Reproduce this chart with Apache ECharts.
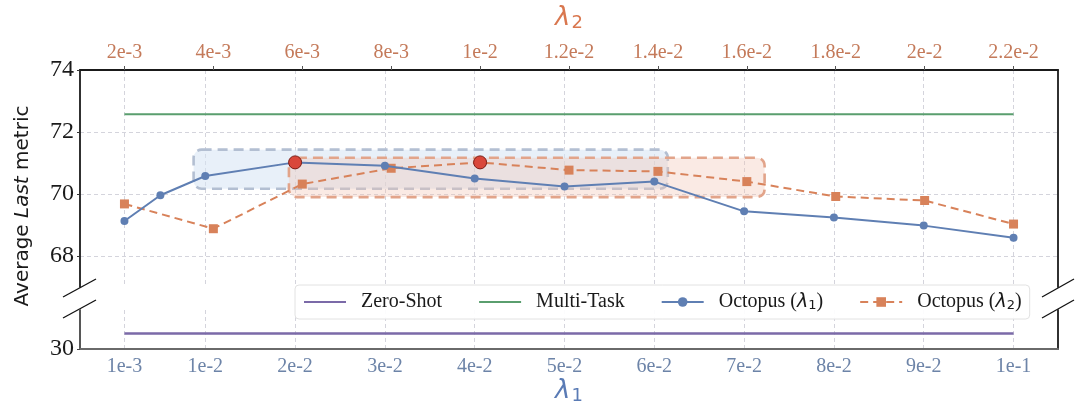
<!DOCTYPE html>
<html><head><meta charset="utf-8">
<script src="https://cdn.jsdelivr.net/npm/echarts@6/dist/echarts.min.js"></script>
<style>html,body{margin:0;padding:0;background:#fff}#c{width:1080px;height:412px}</style>
</head><body><div id="c"></div>
<script>
// ---- data ----
const lambda1 = [0.001, 0.005, 0.01, 0.02, 0.03, 0.04, 0.05, 0.06, 0.07, 0.08, 0.09, 0.1];
const octopusL1 = [69.13, 69.96, 70.58, 71.02, 70.91, 70.50, 70.24, 70.40, 69.44, 69.24, 68.98, 68.59];
const lambda2 = [0.002, 0.004, 0.006, 0.008, 0.010, 0.012, 0.014, 0.016, 0.018, 0.020, 0.022];
const octopusL2 = [69.68, 68.88, 70.32, 70.83, 71.02, 70.77, 70.73, 70.40, 69.92, 69.79, 69.03];
const bestL1Index = 3;
const bestL2Index = 4;
const multiTask = 72.57;
const zeroShot = 31.0;
const lambda1Ticks = [0.001, 0.01, 0.02, 0.03, 0.04, 0.05, 0.06, 0.07, 0.08, 0.09, 0.1];
const lambda1TickLabels = ['1e-3','1e-2','2e-2','3e-2','4e-2','5e-2','6e-2','7e-2','8e-2','9e-2','1e-1'];
const lambda2Ticks = [0.002, 0.004, 0.006, 0.008, 0.010, 0.012, 0.014, 0.016, 0.018, 0.020, 0.022];
const lambda2TickLabels = ['2e-3','4e-3','6e-3','8e-3','1e-2','1.2e-2','1.4e-2','1.6e-2','1.8e-2','2e-2','2.2e-2'];
const upperYTicks = [68, 70, 72, 74];
const lowerYTicks = [30];
// highlight regions [x0, y0, x1, y1]
const boxL1 = [0.0087, 70.17, 0.0615, 71.43];
const boxL2 = [0.0057, 69.90, 0.0164, 71.17];

// ---- layout / style ----
const G = {left: 80, right: 22, top: 63, upperH: 224, lowerTop: 310, lowerH: 39};
const C = {blue: '#5f7fb3', orange: '#d8825a', green: '#5a9e6e', purple: '#7b6aa8',
           red: '#d9473a', redEdge: '#7a1c15', topLab: '#c47a5a', botLab: '#6d84a8'};
const serif = 'Liberation Serif';

function labelFrom(ticks, labels) {
  return v => { for (let i = 0; i < ticks.length; i++) if (Math.abs(ticks[i] - v) < 1e-9) return labels[i]; return ''; };
}
const gridDash = {show: true, lineStyle: {color: '#d4d4dc', type: [4, 3], width: 1}};
const spine = c => ({show: true, onZero: false, lineStyle: {color: c || '#1a1a1a', width: 1.8}});

function boxSeries(box, xIdx, fill, stroke) {
  return {
    type: 'custom', coordinateSystem: 'cartesian2d', xAxisIndex: xIdx, yAxisIndex: 0, z: 1, silent: true,
    data: [box],
    renderItem: (params, api) => {
      const p0 = api.coord([api.value(0), api.value(3)]);
      const p1 = api.coord([api.value(2), api.value(1)]);
      return {type: 'rect', shape: {x: p0[0], y: p0[1], width: p1[0] - p0[0], height: p1[1] - p0[1], r: 8},
              style: {fill: fill, stroke: stroke, lineWidth: 2.6, lineDash: [10, 6]}};
    }
  };
}

const l1Pad = 0.05 * (lambda1Ticks[lambda1Ticks.length - 1] - lambda1Ticks[0]);
const l2Pad = 0.05 * (lambda2Ticks[lambda2Ticks.length - 1] - lambda2Ticks[0]);
const l1Min = lambda1Ticks[0] - l1Pad, l1Max = lambda1Ticks[lambda1Ticks.length - 1] + l1Pad;

const legendNames = {
  'Zero-Shot': '{n|Zero-Shot}', 'Multi-Task': '{n|Multi-Task}',
  'Octopus (λ1)': '{n|Octopus (}{i|λ}{s|1}{n|)}', 'Octopus (λ2)': '{n|Octopus (}{i|λ}{s|2}{n|)}'
};

const option = {
  animation: false,
  backgroundColor: '#fff',
  grid: [
    {left: G.left, right: G.right, top: G.top, height: G.upperH},
    {left: G.left, right: G.right, top: G.lowerTop, height: G.lowerH}
  ],
  xAxis: [
    {gridIndex: 0, type: 'value', position: 'bottom', min: l1Min, max: l1Max,
     axisLine: {show: false, onZero: false}, axisTick: {show: false, customValues: lambda1Ticks},
     axisLabel: {show: false, customValues: lambda1Ticks},
     splitLine: Object.assign({customValues: lambda1Ticks}, gridDash)},
    {gridIndex: 0, type: 'value', position: 'top', min: lambda2Ticks[0] - l2Pad, max: lambda2Ticks[lambda2Ticks.length - 1] + l2Pad,
     axisLine: spine(), axisTick: {show: true, length: 4, customValues: lambda2Ticks, lineStyle: {color: '#555'}},
     axisLabel: {customValues: lambda2Ticks, formatter: labelFrom(lambda2Ticks, lambda2TickLabels),
                 color: C.topLab, fontFamily: serif, fontSize: 20, margin: 7},
     splitLine: {show: false},
     name: '{i|λ}{s|2}', nameLocation: 'middle', nameGap: 38,
     nameTextStyle: {rich: {i: {fontFamily: 'DejaVu Sans', fontStyle: 'italic', fontSize: 26, color: '#d9774f'},
                            s: {fontFamily: 'DejaVu Sans', fontSize: 18, color: '#d9774f', padding: [10, 0, 0, 1]}}}},
    {gridIndex: 1, type: 'value', position: 'bottom', min: l1Min, max: l1Max,
     axisLine: spine('#6a6a6a'), axisTick: {show: false, customValues: lambda1Ticks},
     axisLabel: {customValues: lambda1Ticks, formatter: labelFrom(lambda1Ticks, lambda1TickLabels),
                 color: C.botLab, fontFamily: serif, fontSize: 20, margin: 8},
     splitLine: Object.assign({customValues: lambda1Ticks}, gridDash),
     name: '{i|λ}{s|1}', nameLocation: 'middle', nameGap: 28,
     nameTextStyle: {rich: {i: {fontFamily: 'DejaVu Sans', fontStyle: 'italic', fontSize: 26, color: '#5a7bb5'},
                            s: {fontFamily: 'DejaVu Sans', fontSize: 18, color: '#5a7bb5', padding: [10, 0, 0, 1]}}}}
  ],
  yAxis: [
    {gridIndex: 0, type: 'value', position: 'left', min: 67, max: 74,
     axisLine: spine(), axisTick: {show: true, length: 3, customValues: upperYTicks, lineStyle: {color: '#333'}},
     axisLabel: {customValues: upperYTicks, color: '#1a1a1a', fontFamily: serif, fontSize: 24, margin: 6},
     splitLine: Object.assign({customValues: [68, 70, 72]}, gridDash)},
    {gridIndex: 0, type: 'value', position: 'right', min: 67, max: 74,
     axisLine: spine(), axisTick: {show: false}, axisLabel: {show: false}, splitLine: {show: false}},
    {gridIndex: 1, type: 'value', position: 'left', min: 30, max: 32.5,
     axisLine: spine('#444'), axisTick: {show: true, length: 3, customValues: lowerYTicks},
     axisLabel: {customValues: lowerYTicks, color: '#1a1a1a', fontFamily: serif, fontSize: 24, margin: 6},
     splitLine: {show: false}},
    {gridIndex: 1, type: 'value', position: 'right', min: 30, max: 32.5,
     axisLine: spine(), axisTick: {show: false}, axisLabel: {show: false}, splitLine: {show: false}}
  ],
  legend: {
    left: 295, top: 285, itemWidth: 42, itemHeight: 12, itemGap: 36,
    padding: [7, 8, 7, 8],
    backgroundColor: 'rgba(255,255,255,0.92)', borderColor: '#e2e2e2', borderWidth: 1, borderRadius: 4,
    data: [
      {name: 'Zero-Shot', itemStyle: {opacity: 0, borderWidth: 0}},
      {name: 'Multi-Task', itemStyle: {opacity: 0, borderWidth: 0}},
      'Octopus (λ1)', 'Octopus (λ2)'
    ],
    formatter: n => legendNames[n],
    textStyle: {padding: [0, 0, 0, 10],
      rich: {n: {fontFamily: serif, fontSize: 20, color: '#1a1a1a'},
             i: {fontFamily: 'DejaVu Sans', fontStyle: 'italic', fontSize: 19, color: '#1a1a1a'},
             s: {fontFamily: 'DejaVu Sans', fontSize: 13, color: '#1a1a1a', padding: [7, 0, 0, 0]}}}
  },
  series: [
    boxSeries(boxL1, 0, 'rgba(214,228,244,0.55)', '#b3bfd2'),
    boxSeries(boxL2, 1, 'rgba(242,196,178,0.35)', '#e2a48a'),
    {name: 'Zero-Shot', type: 'line', xAxisIndex: 2, yAxisIndex: 2, symbol: 'circle', symbolSize: 0, showSymbol: false, z: 3,
     data: lambda1.map(x => [x, zeroShot]), lineStyle: {color: C.purple, width: 2.5}, itemStyle: {color: C.purple}},
    {name: 'Multi-Task', type: 'line', xAxisIndex: 0, yAxisIndex: 0, symbol: 'circle', symbolSize: 0, showSymbol: false, z: 3,
     data: lambda1.map(x => [x, multiTask]), lineStyle: {color: C.green, width: 2}, itemStyle: {color: C.green}},
    {name: 'Octopus (λ1)', type: 'line', xAxisIndex: 0, yAxisIndex: 0, z: 5,
     symbol: 'circle', symbolSize: 8,
     data: lambda1.map((x, i) => i === bestL1Index
       ? {value: [x, octopusL1[i]], symbolSize: 13, itemStyle: {color: C.red, borderColor: C.redEdge, borderWidth: 1}}
       : [x, octopusL1[i]]),
     lineStyle: {color: C.blue, width: 2}, itemStyle: {color: C.blue}},
    {name: 'Octopus (λ2)', type: 'line', xAxisIndex: 1, yAxisIndex: 0, z: 4,
     symbol: 'rect', symbolSize: 9,
     data: lambda2.map((x, i) => i === bestL2Index
       ? {value: [x, octopusL2[i]], symbol: 'circle', symbolSize: 13, itemStyle: {color: C.red, borderColor: C.redEdge, borderWidth: 1}}
       : [x, octopusL2[i]]),
     lineStyle: {color: C.orange, width: 2, type: [8, 5]}, itemStyle: {color: C.orange}}
  ],
  graphic: [
    {type: 'text', rotation: Math.PI / 2, x: 23, y: 206,
     style: {text: '{n|Average }{i|Last}{n| metric}', align: 'center', verticalAlign: 'middle',
       rich: {n: {fontFamily: 'DejaVu Sans', fontSize: 20, fill: '#1a1a1a'},
              i: {fontFamily: 'DejaVu Sans', fontStyle: 'italic', fontSize: 20, fill: '#1a1a1a'}}}},
    // axis break marks
    {type: 'line', shape: {x1: 63, y1: 297, x2: 96, y2: 279}, style: {stroke: '#111', lineWidth: 1.3}},
    {type: 'line', shape: {x1: 63, y1: 318, x2: 96, y2: 300}, style: {stroke: '#111', lineWidth: 1.3}},
    {type: 'line', shape: {x1: 1042, y1: 297, x2: 1074, y2: 279}, style: {stroke: '#111', lineWidth: 1.3}},
    {type: 'line', shape: {x1: 1042, y1: 318, x2: 1074, y2: 300}, style: {stroke: '#111', lineWidth: 1.3}}
  ]
};
echarts.init(document.getElementById('c')).setOption(option);
</script></body></html>
